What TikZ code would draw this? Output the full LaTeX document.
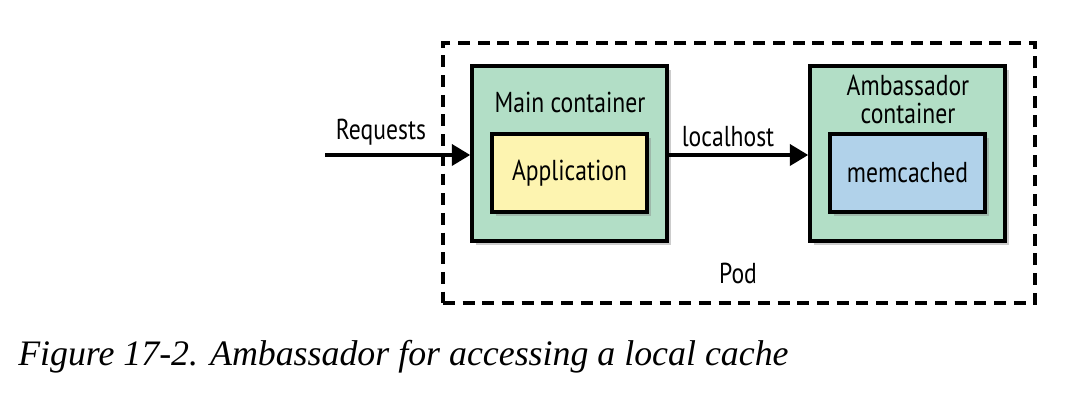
\documentclass[tikz,border=0pt]{standalone}
\usepackage{fontspec}
\setmainfont{Liberation Serif}
\newfontfamily\diagfont[FakeStretch=0.82]{PT Sans}
\usepackage{tikz}
\usetikzlibrary{arrows.meta, positioning, shadows}

\definecolor{podgreen}{HTML}{B2DEC6}
\definecolor{appyellow}{HTML}{FDF4B0}
\definecolor{cacheblue}{HTML}{B1D2EA}

\begin{document}
\begin{tikzpicture}[
    font=\diagfont\fontsize{20.5}{23}\selectfont,
    ctr/.style={draw, line width=2.6pt, fill=podgreen, minimum width=4.875cm, minimum height=4.375cm,
      drop shadow={shadow xshift=3pt, shadow yshift=-3pt, opacity=0.4}},
    inner/.style={draw, line width=2.6pt, minimum width=3.875cm, minimum height=1.95cm,
      drop shadow={shadow xshift=3pt, shadow yshift=-3pt, opacity=0.4}},
    flow/.style={-{Triangle[length=13pt, width=15pt]}, line width=2.4pt},
    lbl/.style={inner sep=0pt, align=center},
]
  \useasboundingbox (0,0) rectangle (27.2,10.45);

  \node[draw, line width=2.4pt, dash pattern=on 8.5pt off 5.5pt,
        minimum width=14.8cm, minimum height=6.5cm] (pod) at (18.475,6.125) {};

  \node[ctr] (main) at (14.2375,6.6125) {};
  \node[inner, fill=appyellow] (app) at (14.2375,6.125) {Application};
  \node[ctr] (amb) at (22.6875,6.6125) {};
  \node[inner, fill=cacheblue] (memc) at (22.6875,6.125) {memcached};

  \node[lbl] (mainlbl) at (14.25,7.9) {Main container};
  \node[lbl] (amblbl) at (22.7,7.975) {Ambassador\\[-3pt]container};
  \node[lbl] (podlbl) at (18.45,3.625) {Pod};

  % requests come in from the left
  \coordinate (req) at (8.125,6.575);
  \draw[flow] (req) -- (req -| main.west);
  \node[lbl] (reqlbl) at (9.525,7.15) {Requests};

  \draw[flow] (main.east |- req) -- (amb.west |- req);
  \node[lbl] (loclbl) at (18.2,7.025) {localhost};

  \node[anchor=west, inner sep=0pt, font=\rmfamily\itshape\fontsize{25.5}{28}\selectfont]
    (caption) at (0.45,1.525) {Figure 17-2. Ambassador for accessing a local cache};
\end{tikzpicture}
\end{document}
